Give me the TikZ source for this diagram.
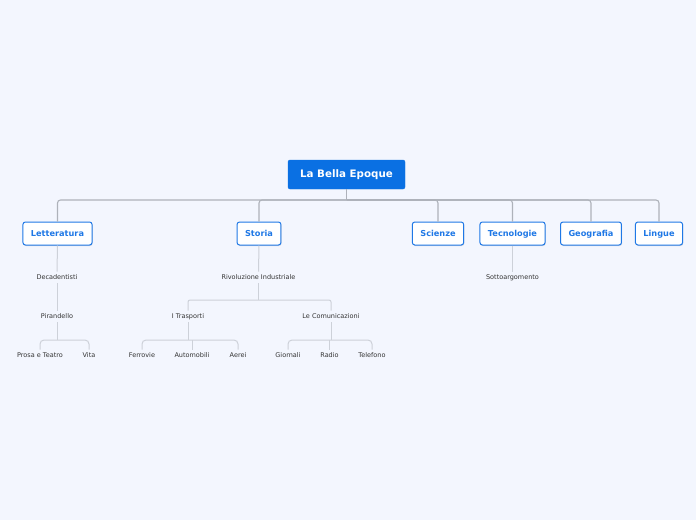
\documentclass[tikz,border=0pt]{standalone}
\usepackage{fontspec}
\setmainfont{DejaVu Sans}
\usepackage{tikz}
\usetikzlibrary{positioning,shadows}
\definecolor{pagebg}{HTML}{F3F6FE}
\definecolor{rootblue}{HTML}{0A70E3}
\definecolor{topicblue}{HTML}{1F78E6}
\definecolor{linegray}{HTML}{AEB2BA}
\definecolor{sublinegray}{HTML}{CDD1D9}
\definecolor{subtext}{HTML}{333333}
\tikzset{
  rootbox/.style={draw=rootblue, fill=rootblue, text=white, rounded corners=2pt, minimum width=117pt, minimum height=29pt, text height=7.6pt, text depth=1.2pt, font=\fontsize{10.3}{12}\selectfont\bfseries},
  topic/.style={draw=topicblue, line width=1pt, fill=white, text=topicblue, rounded corners=2.5pt, inner xsep=8pt, minimum height=23pt, text height=6pt, text depth=1pt, font=\fontsize{8.2}{10}\selectfont\bfseries, drop shadow={opacity=0.25, shadow xshift=0.6pt, shadow yshift=-1pt}},
  subtopic/.style={text=subtext, inner sep=2.5pt, text height=4.8pt, text depth=1.4pt, font=\fontsize{6.5}{8}\selectfont},
  mainlink/.style={draw=linegray, line width=1.1pt, rounded corners=3pt},
  sublink/.style={draw=sublinegray, line width=1pt, rounded corners=4pt}
}
\begin{document}
\begin{tikzpicture}[x=1pt, y=-1pt]
  \fill[pagebg] (0,0) rectangle (696,520);
  \useasboundingbox (0,0) rectangle (696,520);

  \node[rootbox] (root) at (346.5,174.5) {La Bella Epoque};
  \coordinate (bus) at (346.5,200);

  \node[topic] (lett) at (57.5,233.5) {Letteratura};
  \node[topic] (stor) at (259,233.5) {Storia};
  \node[topic] (scie) at (438,233.5) {Scienze};
  \node[topic] (tecn) at (512.5,233.5) {Tecnologie};
  \node[topic] (geog) at (591,233.5) {Geografia};
  \node[topic] (ling) at (659,233.5) {Lingue};

  \draw[mainlink] (root.south) -- (bus);
  \foreach \t in {lett,stor,scie,tecn,geog,ling}
    \draw[mainlink] (bus) -| (\t.north);

  \node[subtopic] (deca) at (57,277.5) {Decadentisti};
  \node[subtopic] (pira) at (57,316.5) {Pirandello};
  \node[subtopic] (pros) at (40,355.5) {Prosa e Teatro};
  \node[subtopic] (vita) at (89,355.5) {Vita};
  \coordinate (pjoin) at (57,340);

  \node[subtopic] (rivo) at (258.5,277.5) {Rivoluzione Industriale};
  \node[subtopic] (tras) at (188,316.5) {I Trasporti};
  \node[subtopic] (comu) at (331,316.5) {Le Comunicazioni};
  \coordinate (rjoin) at (258.5,300);
  \node[subtopic] (ferr) at (142,355.5) {Ferrovie};
  \node[subtopic] (auto) at (192,355.5) {Automobili};
  \node[subtopic] (aere) at (238,355.5) {Aerei};
  \coordinate (tjoin) at (188,340);
  \node[subtopic] (gior) at (288,355.5) {Giornali};
  \node[subtopic] (radi) at (329.5,355.5) {Radio};
  \node[subtopic] (tele) at (372,355.5) {Telefono};
  \coordinate (cjoin) at (331,340);

  \node[subtopic] (sott) at (512.5,277.5) {Sottoargomento};

  \draw[sublink] (lett.south) -- (deca.north);
  \draw[sublink] (deca.south) -- (pira.north);
  \draw[sublink] (pira.south) -- (pjoin);
  \draw[sublink] (pros.north) |- (pjoin) -| (vita.north);

  \draw[sublink] (stor.south) -- (rivo.north);
  \draw[sublink, rounded corners=2pt] (rivo.south) -- (rjoin);
  \draw[sublink, rounded corners=2pt] (tras.north) |- (rjoin) -| (comu.north);
  \draw[sublink] (tras.south) -- (tjoin);
  \draw[sublink] (ferr.north) |- (tjoin) -| (aere.north);
  \draw[sublink] (auto.north) -- (auto.north |- tjoin);
  \draw[sublink] (comu.south) -- (cjoin);
  \draw[sublink] (gior.north) |- (cjoin) -| (tele.north);
  \draw[sublink] (radi.north) -- (radi.north |- cjoin);

  \draw[sublink] (tecn.south) -- (sott.north);
\end{tikzpicture}
\end{document}
